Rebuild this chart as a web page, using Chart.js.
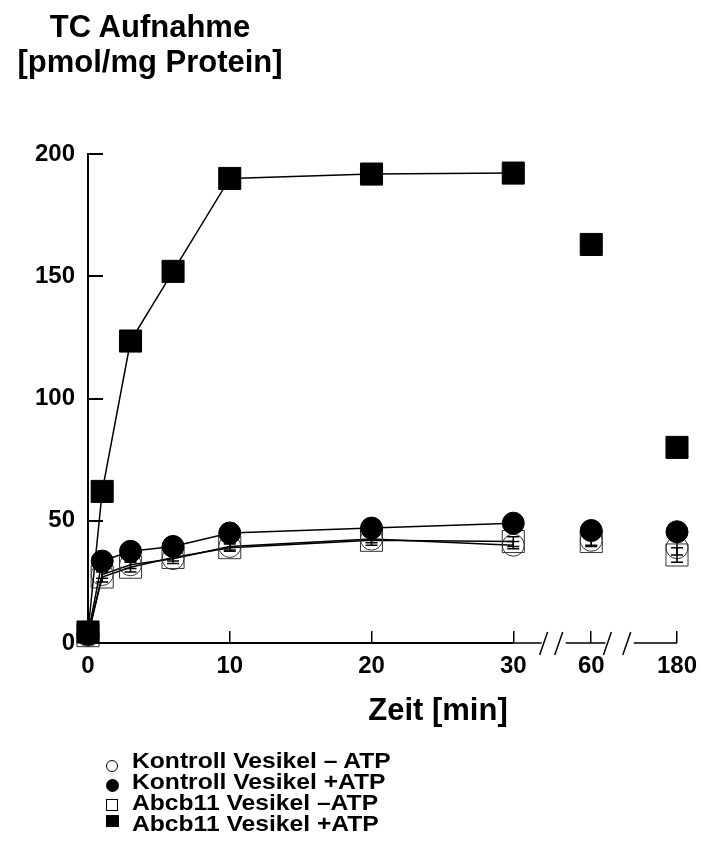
<!DOCTYPE html>
<html lang="de">
<head>
<meta charset="utf-8">
<title>TC Aufnahme</title>
<script src="https://cdn.jsdelivr.net/npm/chart.js@4.4.1/dist/chart.umd.min.js"></script>
<style>
  body { margin: 0; background: #fff; font-family: 'Liberation Sans', Arial, sans-serif; color: #000; }
  #wrap { position: relative; width: 701px; height: 852px; overflow: hidden; }
  #kurve { position: absolute; left: 0; top: 0; }
  .titel { position: absolute; font-weight: bold; font-size: 31px; line-height: 35px; text-align: center; white-space: nowrap; }
  #ytitel { left: 0; top: 8.7px; width: 300px; }
  #xtitel { left: 288px; top: 691.7px; width: 300px; }
  #legende { position: absolute; left: 0; top: 750.1px; width: 500px; font-weight: bold; font-size: 22px; line-height: 21.1px; }
  .zeile { position: relative; height: 21.1px; }
  .zeile .txt { position: absolute; left: 132px; top: 0; white-space: nowrap; transform: scaleX(1.12); transform-origin: left center; }
  .sym { position: absolute; box-sizing: border-box; }
  .kreis-offen { left: 106px; width: 12px; height: 12px; border: 1px solid #000; border-radius: 50%; }
  .kreis-voll { left: 105.5px; width: 13px; height: 13px; background: #000; border-radius: 50%; }
  .quadrat-offen { left: 106px; width: 12px; height: 12px; border: 1px solid #000; }
  .quadrat-voll { left: 105.5px; width: 13px; height: 12px; background: #000; }
</style>
</head>
<body>
<div id="wrap">
  <canvas id="kurve" width="701" height="852"></canvas>
  <div id="ytitel" class="titel">TC Aufnahme<br>[pmol/mg Protein]</div>
  <div id="xtitel" class="titel">Zeit [min]</div>
  <div id="legende"></div>
</div>
<script>
  // Messzeitpunkte in Minuten
  const zeiten = [0, 1, 3, 6, 10, 20, 30, 60, 180];

  // TC Aufnahme in pmol/mg Protein
  const kontrollOhneATP = [3, 28, 32, 34.5, 39.5, 42.5, 40, 42, 39];
  const kontrollMitATP  = [3.5, 33.5, 37.5, 39.5, 45, 47, 49, 46, 45.5];
  const abcbOhneATP     = [3, 27, 31, 35, 39, 42, 41.5, 41.5, 36];
  const abcbMitATP      = [4.5, 62, 123.5, 152, 190, 191.8, 192.2, 163, 80];

  // Standardfehler (nur bei den offenen Symbolen sichtbar)
  const kontrollOhneFehler = [0, 1.5, 1.5, 2, 1.5, 1.5, 1.5, 2, 3];
  const abcbOhneFehler     = [0, 2, 2, 1.5, 1.5, 2, 2, 2, 3];

  const serienNamen = [
    'Kontroll Vesikel \u2013 ATP',
    'Kontroll Vesikel +ATP',
    'Abcb11 Vesikel \u2013ATP',
    'Abcb11 Vesikel +ATP'
  ];
  const symbolKlassen = ['kreis-offen', 'kreis-voll', 'quadrat-offen', 'quadrat-voll'];
  const symbolOben = [9.9, 7.8, 6.7, 1.6];

  const xTickZeiten = [0, 10, 20, 30, 60, 180];
  const yTicks = [0, 50, 100, 150, 200];

  // Zeitachse mit Bruch: 0–30 min linear, 60 und 180 min hinter den Brüchen
  const bruchStellen = { 60: 35.5, 180: 41.55 };
  const brueche = [[32.0, 33.7], [36.5, 38.5]];
  function achsenPos(t) { return t <= 30 ? t : bruchStellen[t]; }

  function punkte(werte) {
    return zeiten.map((t, i) => ({ x: achsenPos(t), y: werte[i] }));
  }

  // Legende
  const legende = document.getElementById('legende');
  serienNamen.forEach((name, i) => {
    const zeile = document.createElement('div');
    zeile.className = 'zeile';
    zeile.innerHTML = `<span class="sym ${symbolKlassen[i]}" style="top:${symbolOben[i]}px"></span><span class="txt">${name}</span>`;
    legende.appendChild(zeile);
  });

  // Linien nur bis 30 min, danach einzelne Punkte
  const segmentFarbe = ctx => ctx.p1.parsed.x > 30 ? 'rgba(0,0,0,0)' : '#000';

  function serie(label, werte, stil, offen, fehler, reihenfolge) {
    return {
      label,
      data: punkte(werte),
      fehler,
      order: reihenfolge,
      borderColor: '#000',
      borderWidth: 1.5,
      fill: false,
      tension: 0,
      clip: false,
      pointStyle: stil,
      pointRadius: stil === 'rect' ? 15.6 : 11,
      pointBackgroundColor: offen ? 'rgba(0,0,0,0)' : '#000',
      pointBorderColor: offen ? '#333' : '#000',
      pointBorderWidth: 1,
      segment: { borderColor: segmentFarbe }
    };
  }

  const fehlerBalken = {
    id: 'fehlerBalken',
    afterDatasetsDraw(chart) {
      const ctx = chart.ctx, y = chart.scales.y;
      chart.data.datasets.forEach((ds, i) => {
        if (!ds.fehler) return;
        const meta = chart.getDatasetMeta(i);
        meta.data.forEach((pt, j) => {
          const f = ds.fehler[j];
          if (!f) return;
          const wert = ds.data[j].y;
          const oben = y.getPixelForValue(wert + f);
          const unten = y.getPixelForValue(wert - f);
          ctx.save();
          ctx.strokeStyle = '#000';
          ctx.lineWidth = 1.5;
          ctx.beginPath();
          ctx.moveTo(pt.x, oben); ctx.lineTo(pt.x, unten);
          ctx.moveTo(pt.x - 6, oben); ctx.lineTo(pt.x + 6, oben);
          ctx.moveTo(pt.x - 6, unten); ctx.lineTo(pt.x + 6, unten);
          ctx.stroke();
          ctx.restore();
        });
      });
    }
  };

  // x-Achse: dicker Teil bis 30 min, dünn mit // zwischen den Abschnitten
  const zeitAchse = {
    id: 'zeitAchse',
    beforeDatasetsDraw(chart) {
      const ctx = chart.ctx, x = chart.scales.x;
      const y0 = chart.chartArea.bottom;
      const px = v => x.getPixelForValue(v);
      ctx.save();
      ctx.strokeStyle = '#000';
      ctx.lineWidth = 2;
      ctx.beginPath();
      ctx.moveTo(px(0) - 1, y0); ctx.lineTo(px(30), y0);
      ctx.stroke();

      ctx.lineWidth = 1.5;
      ctx.beginPath();
      const stuecke = [[30, brueche[0][0]], [brueche[0][1], brueche[1][0]], [brueche[1][1], achsenPos(180)]];
      stuecke.forEach(([a, b]) => { ctx.moveTo(px(a), y0); ctx.lineTo(px(b), y0); });
      brueche.forEach(([a, b]) => {
        [px(a) - 2, px(b) - 11].forEach(c => {
          ctx.moveTo(c, y0 + 12);
          ctx.lineTo(c + 8, y0 - 11);
        });
      });
      ctx.stroke();
      ctx.restore();
    }
  };

  Chart.defaults.font.family = "'Liberation Sans', Arial, sans-serif";
  Chart.defaults.color = '#000';

  new Chart(document.getElementById('kurve'), {
    type: 'line',
    data: {
      datasets: [
        serie(serienNamen[0], kontrollOhneATP, 'circle', true, kontrollOhneFehler, 3),
        serie(serienNamen[1], kontrollMitATP, 'circle', false, null, 1),
        serie(serienNamen[2], abcbOhneATP, 'rect', true, abcbOhneFehler, 2),
        serie(serienNamen[3], abcbMitATP, 'rect', false, null, 0)
      ]
    },
    options: {
      responsive: false,
      animation: false,
      devicePixelRatio: 1,
      events: [],
      layout: { padding: { left: 0, top: 154, right: 24, bottom: 169 } },
      plugins: {
        legend: { display: false },
        title: { display: false },
        tooltip: { enabled: false }
      },
      scales: {
        x: {
          type: 'linear',
          position: 'bottom',
          min: 0,
          max: achsenPos(180),
          afterFit: s => {
            s.height = 40;
            // Beschriftung darf in den Seitenrand ragen
            s.paddingLeft = 0;
            s.paddingRight = 0;
          },
          afterBuildTicks: s => { s.ticks = xTickZeiten.map(t => ({ value: achsenPos(t) })); },
          border: { display: false },
          grid: { drawOnChartArea: false, tickLength: -12, color: '#000', lineWidth: 1.5 },
          ticks: {
            autoSkip: false,
            maxRotation: 0,
            padding: 21,
            color: '#000',
            font: { size: 24, weight: 'bold' },
            callback: (v, i) => String(xTickZeiten[i])
          }
        },
        y: {
          min: 0,
          max: 200,
          afterFit: s => { s.width = 88; },
          afterBuildTicks: s => { s.ticks = yTicks.map(v => ({ value: v })); },
          border: { display: true, color: '#000', width: 2 },
          grid: { drawOnChartArea: false, tickLength: -15, color: '#000', lineWidth: 2 },
          ticks: {
            padding: 28,
            color: '#000',
            font: { size: 24, weight: 'bold' }
          }
        }
      }
    },
    plugins: [zeitAchse, fehlerBalken]
  });
</script>
</body>
</html>
